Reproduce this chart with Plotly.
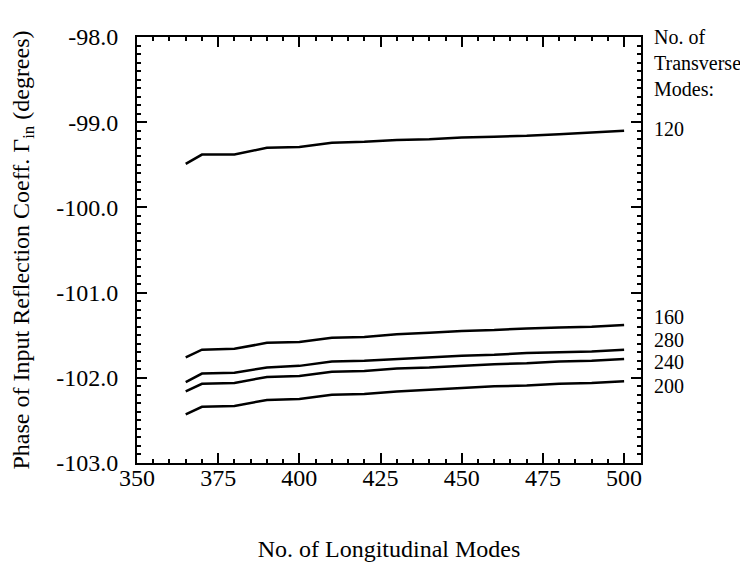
import plotly.graph_objects as go

# Data
longitudinal_modes = [365, 370, 380, 390, 400, 410, 420, 430, 440, 450, 460, 470, 480, 490, 500]
phase_120 = [-99.49, -99.38, -99.38, -99.30, -99.29, -99.24, -99.23, -99.21, -99.20, -99.18, -99.17, -99.16, -99.14, -99.12, -99.10]
phase_160 = [-101.76, -101.67, -101.66, -101.59, -101.58, -101.53, -101.52, -101.49, -101.47, -101.45, -101.44, -101.42, -101.41, -101.40, -101.38]
phase_280 = [-102.05, -101.95, -101.94, -101.88, -101.86, -101.81, -101.80, -101.78, -101.76, -101.74, -101.73, -101.71, -101.70, -101.69, -101.67]
phase_240 = [-102.16, -102.07, -102.06, -101.99, -101.98, -101.93, -101.92, -101.89, -101.88, -101.86, -101.84, -101.83, -101.81, -101.80, -101.78]
phase_200 = [-102.43, -102.34, -102.33, -102.26, -102.25, -102.20, -102.19, -102.16, -102.14, -102.12, -102.10, -102.09, -102.07, -102.06, -102.04]

series_names = ["120", "160", "280", "240", "200"]
series_values = [phase_120, phase_160, phase_280, phase_240, phase_200]
label_y = [-99.08, -101.29, -101.56, -101.82, -102.10]

x_tickvals = [350, 375, 400, 425, 450, 475, 500]
y_tickvals = [-98.0, -99.0, -100.0, -101.0, -102.0, -103.0]
y_ticktext = ["-98.0", "-99.0", "-100.0", "-101.0", "-102.0", "-103.0"]

header_text = "No. of<br>Transverse<br>Modes:"
header_y = -98.31

FONT = "Liberation Serif"
TICKFONT = dict(family=FONT, size=24, color="black")

fig = go.Figure()
for name, vals in zip(series_names, series_values):
    fig.add_trace(go.Scatter(x=longitudinal_modes, y=vals, mode="lines", name=name,
                             line=dict(color="black", width=2.5), showlegend=False))

annotations = [dict(x=1.022, xref="paper", y=header_y, yref="y", text=header_text, showarrow=False,
                    xanchor="left", yanchor="middle", align="left",
                    font=dict(size=20, color="black", family=FONT))]
for name, yv in zip(series_names, label_y):
    annotations.append(dict(x=1.022, xref="paper", y=yv, yref="y", text=name, showarrow=False,
                            xanchor="left", yanchor="middle", font=dict(size=20, color="black", family=FONT)))

# page body has an 8px margin, so the figure is a bit smaller than the window
fig.update_layout(
    width=740, height=554,
    margin=dict(l=129, r=107, t=29, b=99),
    paper_bgcolor="white", plot_bgcolor="white",
    font=dict(family=FONT, size=24, color="black"),
    annotations=annotations,
)
fig.update_xaxes(
    range=[350, 505.2], tickvals=x_tickvals, ticks="inside", ticklen=10, tickwidth=2,
    showline=True, linecolor="black", linewidth=2, mirror="ticks", showgrid=False, zeroline=False,
    minor=dict(dtick=5, tick0=350, ticks="inside", ticklen=4, tickwidth=2, tickcolor="black", showgrid=False),
    tickcolor="black", ticklabelstandoff=-8, tickfont=TICKFONT, automargin=False,
    title=dict(text="No. of Longitudinal Modes", standoff=63, font=dict(family=FONT, size=24, color="black")),
)
fig.update_yaxes(
    range=[-103, -98], tickvals=y_tickvals, ticktext=y_ticktext, ticks="inside", ticklen=10, tickwidth=2,
    showline=True, linecolor="black", linewidth=2, mirror="ticks", showgrid=False, zeroline=False,
    minor=dict(dtick=0.1, tick0=-103, ticks="inside", ticklen=4, tickwidth=2, tickcolor="black", showgrid=False),
    tickcolor="black", ticklabelstandoff=12, tickfont=TICKFONT, automargin=False,
    title=dict(text="Phase of Input Reflection Coeff. Γ<sub>in</sub> (degrees)", standoff=22,
               font=dict(family=FONT, size=24, color="black")),
)

fig.write_html("out.html")
